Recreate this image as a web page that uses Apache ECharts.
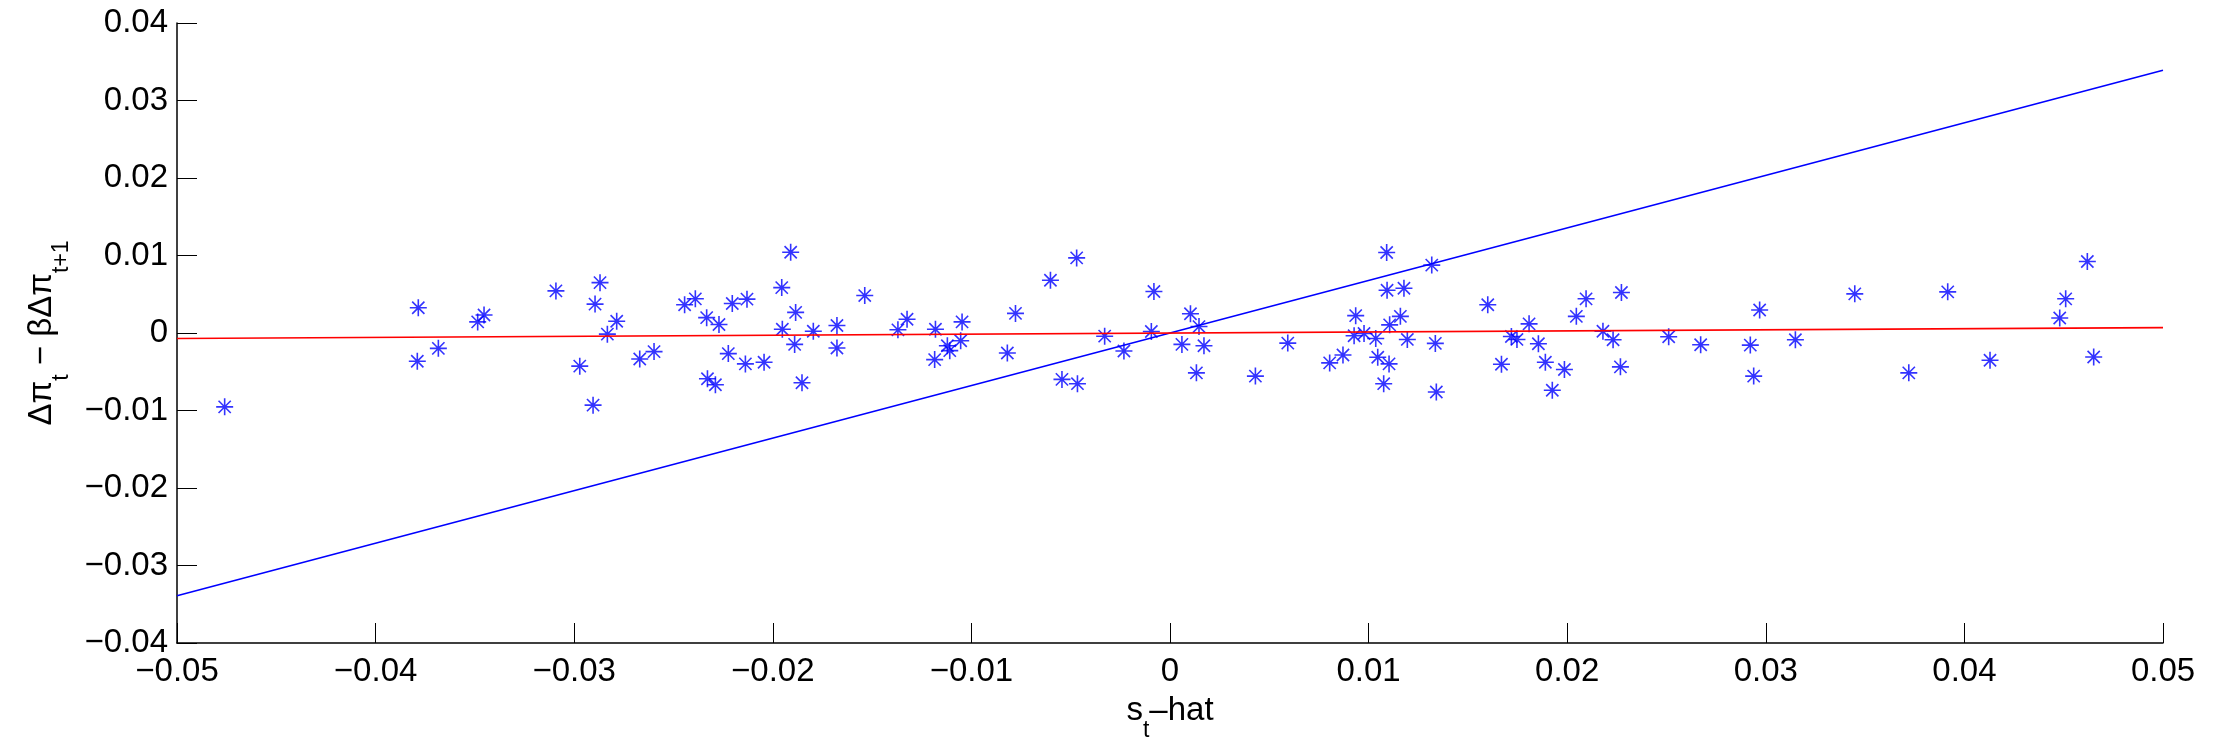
<!DOCTYPE html>
<html>
<head>
<meta charset="utf-8">
<script src="https://cdn.jsdelivr.net/npm/echarts@6/dist/echarts.min.js"></script>
<style>
html,body{margin:0;padding:0;background:#fff;}
#chart{width:2226px;height:747px;}
</style>
</head>
<body>
<div id="chart"></div>
<script>
// s_t-hat values (x)
const sHat = [
 -0.0476,-0.03785,-0.0379,-0.03684,-0.03486,-0.03454,-0.03092,-0.0287,-0.02895,-0.02786,-0.02833,-0.02972,-0.02905,-0.0267,-0.02598,
 -0.02444,-0.0239,-0.02333,-0.02271,-0.02204,-0.0213,-0.02329,-0.02289,-0.02224,-0.02138,-0.02044,-0.0191,-0.01955,-0.01885,-0.01952,
 -0.0189,-0.01853,-0.01796,-0.01677,-0.01677,-0.01537,-0.0137,-0.01324,-0.01181,-0.01121,-0.01109,-0.01054,-0.01047,-0.01185,-0.00819,
 -0.00778,-0.00602,-0.0047,-0.00544,-0.00466,-0.00329,-0.00232,-0.00081,-0.00094,
 0.00103,0.00146,0.0006,0.00171,0.00133,0.0043,0.00593,0.00804,0.00871,0.00935,0.00927,0.00977,0.01036,0.01046,0.01103,0.01076,
 0.01091,0.01093,0.01178,0.0116,0.01106,0.01195,0.01318,0.01336,0.01341,0.016,0.01669,0.01719,0.01747,0.01808,0.01855,0.0189,
 0.01925,0.01986,0.02046,0.02095,0.0218,0.02231,0.02273,0.02268,
 0.02511,0.02672,0.02922,0.02939,0.02969,0.03149,0.03448,0.0372,0.03916,0.04129,0.0448,0.0451,0.04619,0.04651
];
// Δπ_t − βΔπ_{t+1} values (y)
const dPi = [
 -0.00953,0.00326,-0.00364,-0.00198,0.00143,0.00233,0.00543,0.0065,0.00373,0.00151,-0.00015,-0.00428,-0.00931,-0.00335,-0.0024,
 0.00364,0.00441,0.00198,0.00109,0.00381,0.00437,-0.00591,-0.00667,-0.00266,-0.00399,-0.00377,0.01042,0.00586,0.00266,0.00049,
 -0.00147,-0.00642,0.00023,0.00096,-0.00194,0.00483,0.00041,0.00177,0.00049,-0.00164,-0.00228,-0.001,0.00143,-0.00343,-0.00258,
 0.00253,0.0068,0.00969,-0.00599,-0.00654,-0.00041,-0.00232,0.00535,0.00019,
 0.00249,0.00083,-0.00147,-0.00164,-0.00514,-0.00556,-0.0013,-0.00386,-0.00284,0.00224,-0.00036,-0.00006,-0.0007,-0.00313,-0.00399,-0.00654,
 0.01038,0.00552,0.00578,0.00215,0.00105,-0.00083,0.00876,-0.00134,-0.00761,0.00364,-0.00403,-0.00045,-0.00083,0.00118,-0.00138,-0.00377,
 -0.00739,-0.00471,0.00215,0.00441,0.00023,-0.00087,0.00522,-0.00437,
 -0.00049,-0.00151,-0.00156,-0.00556,0.00297,-0.00087,0.00505,-0.00514,0.00531,-0.00352,0.00194,0.00441,0.00923,-0.00309
];
// fitted lines (endpoints)
const blueLineX = [-0.05, 0.05];
const blueLineY = [-0.0339, 0.0339];
const redLineX = [-0.05, 0.05];
const redLineY = [-0.0007, 0.0007];
// tick labels
const xTickValues = [-0.05,-0.04,-0.03,-0.02,-0.01,0,0.01,0.02,0.03,0.04,0.05];
const xTickLabels = ['\u22120.05','\u22120.04','\u22120.03','\u22120.02','\u22120.01','0','0.01','0.02','0.03','0.04','0.05'];
const yTickValues = [-0.04,-0.03,-0.02,-0.01,0,0.01,0.02,0.03,0.04];
const yTickLabels = ['\u22120.04','\u22120.03','\u22120.02','\u22120.01','0','0.01','0.02','0.03','0.04'];

function lookup(vals, labels, v){
  for (let i=0;i<vals.length;i++){ if (Math.abs(vals[i]-v) < 1e-9) return labels[i]; }
  return '';
}

const scatterData = sHat.map((x,i)=>[x, dPi[i]]);
const blueData = blueLineX.map((x,i)=>[x, blueLineY[i]]);
const redData = redLineX.map((x,i)=>[x, redLineY[i]]);

const FONT = '"Liberation Sans", Arial, Helvetica, sans-serif';
const nameRich = {
  n:{fontSize:33, fontFamily:FONT, color:'#000', lineHeight:48, verticalAlign:'top'},
  sub:{fontSize:23, fontFamily:FONT, color:'#000', lineHeight:48, verticalAlign:'bottom'}
};
const chart = echarts.init(document.getElementById('chart'), null, {renderer:'canvas'});
chart.setOption({
  backgroundColor:'#fff',
  animation:false,
  grid:{left:177, right:63, top:23, bottom:98, containLabel:false},
  xAxis:{
    type:'value', min:-0.05, max:0.05, interval:0.01,
    name:'{n|s}{sub|t}{n|\u2013hat}', nameLocation:'middle', nameGap:51,
    nameTextStyle:{rich:nameRich},
    axisLine:{show:true, onZero:false, lineStyle:{color:'#000', width:1.5}},
    axisTick:{show:true, inside:true, length:20, lineStyle:{color:'#000', width:1}},
    axisLabel:{fontSize:33, fontFamily:FONT, color:'#000', margin:12,
      formatter:v=>lookup(xTickValues,xTickLabels,v)},
    splitLine:{show:false}
  },
  yAxis:{
    type:'value', min:-0.04, max:0.04, interval:0.01,
    name:'{n|\u0394\u03c0}{sub|t}{n| \u2212 \u03b2\u0394\u03c0}{sub|t+1}', nameLocation:'middle', nameGap:90, nameRotate:90,
    nameTextStyle:{rich:nameRich},
    axisLine:{show:true, onZero:false, lineStyle:{color:'#000', width:1.5}},
    axisTick:{show:true, inside:true, length:20, lineStyle:{color:'#000', width:1}},
    axisLabel:{fontSize:33, fontFamily:FONT, color:'#000', margin:9,
      formatter:v=>lookup(yTickValues,yTickLabels,v)},
    splitLine:{show:false}
  },
  series:[
    {type:'scatter', data:scatterData, symbol:'path://M0,-10L0,10M-10,0L10,0M-7.2,-7.2L7.2,7.2M-7.2,7.2L7.2,-7.2',
     symbolSize:17, itemStyle:{color:'none', borderColor:'#0000ff', borderWidth:1.6}, z:3},
    {type:'line', data:blueData, symbol:'none', lineStyle:{color:'#0000ff', width:1.6}, z:2},
    {type:'line', data:redData, symbol:'none', lineStyle:{color:'#ff0000', width:1.6}, z:4}
  ]
});
</script>
</body>
</html>
